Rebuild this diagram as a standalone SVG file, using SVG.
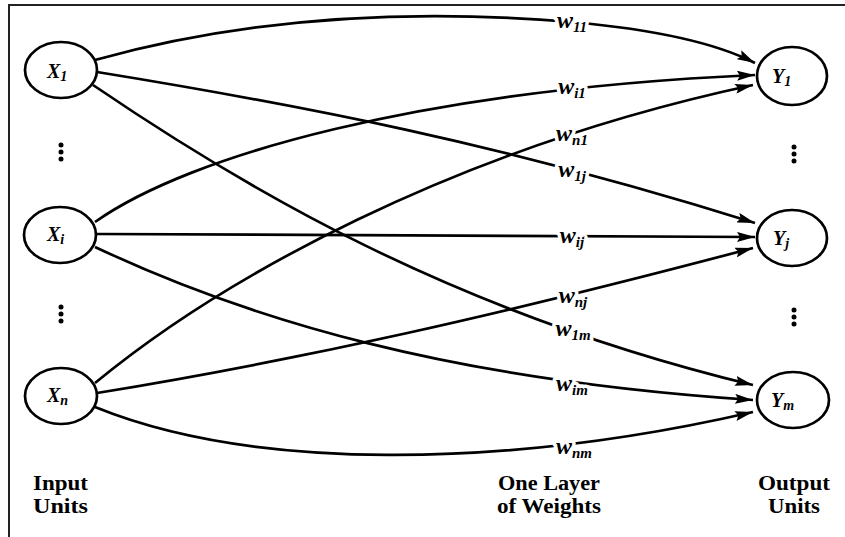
<svg xmlns="http://www.w3.org/2000/svg" width="845" height="537" viewBox="0 0 845 537">
<style>
.node{fill:#fff;stroke:#000;stroke-width:2.7}
.edge{fill:none;stroke:#000;stroke-width:2.7}
.nl{font-family:"Liberation Serif",serif;font-style:italic;font-weight:bold;font-size:20px;fill:#000}
.ns{font-size:14px}
.wl{font-family:"Liberation Serif",serif;font-style:italic;font-weight:bold;font-size:24px;fill:#000;stroke:#fff;stroke-width:7;paint-order:stroke;stroke-linejoin:round;text-anchor:middle}
.ws{font-size:15px}
.cap{font-family:"Liberation Serif",serif;font-weight:bold;font-size:20px;fill:#000}
.dot{fill:#000}
</style>
<defs>
<marker id="arr" markerUnits="userSpaceOnUse" markerWidth="18" markerHeight="10" refX="18" refY="5" orient="auto">
<path d="M0,0 L18,5 L0,10 L3,5 z" fill="#000"/>
</marker>
</defs>
<rect width="845" height="537" fill="#fff"/>
<path d="M9,537 L9,5 L845,5" fill="none" stroke="#222" stroke-width="2"/>
<g id="connectors">
<path class="edge" marker-end="url(#arr)" d="M95,60 Q310,0 572,22 C660,30 720,45 755,63"/>
<path class="edge" marker-end="url(#arr)" d="M95,222 C190,155 420,90 755,75"/>
<path class="edge" marker-end="url(#arr)" d="M95,383 C220,280 450,150 753,85"/>
<path class="edge" marker-end="url(#arr)" d="M97,72 C300,105 500,143 755,223"/>
<path class="edge" marker-end="url(#arr)" d="M97,234 L755,237"/>
<path class="edge" marker-end="url(#arr)" d="M97,393 C300,360 500,315 753,248"/>
<path class="edge" marker-end="url(#arr)" d="M93,85 C240,185 450,312 753,385"/>
<path class="edge" marker-end="url(#arr)" d="M95,247 C250,320 450,380 753,400"/>
<path class="edge" marker-end="url(#arr)" d="M95,407 C250,470 500,470 753,412"/>
<text class="wl" x="572" y="28">w<tspan class="ws" dy="4">11</tspan></text>
<text class="wl" x="572" y="94">w<tspan class="ws" dy="4">i1</tspan></text>
<text class="wl" x="572" y="141">w<tspan class="ws" dy="4">n1</tspan></text>
<text class="wl" x="572" y="177">w<tspan class="ws" dy="4">1j</tspan></text>
<text class="wl" x="572" y="243">w<tspan class="ws" dy="4">ij</tspan></text>
<text class="wl" x="573" y="303">w<tspan class="ws" dy="4">nj</tspan></text>
<text class="wl" x="573" y="336">w<tspan class="ws" dy="4">1m</tspan></text>
<text class="wl" x="572" y="391">w<tspan class="ws" dy="4">im</tspan></text>
<text class="wl" x="574" y="454">w<tspan class="ws" dy="4">nm</tspan></text>
</g>
<g id="X1"><ellipse class="node" cx="61" cy="70" rx="36" ry="28"/><text class="nl" x="47" y="78">X<tspan class="ns" dy="3">1</tspan></text></g>
<g id="Xi"><ellipse class="node" cx="60" cy="235" rx="36" ry="28"/><text class="nl" x="47" y="241">X<tspan class="ns" dy="3">i</tspan></text></g>
<g id="Xn"><ellipse class="node" cx="61" cy="396" rx="36" ry="28"/><text class="nl" x="47" y="402">X<tspan class="ns" dy="3">n</tspan></text></g>
<g id="Y1"><ellipse class="node" cx="792" cy="76" rx="35" ry="29"/><text class="nl" x="772" y="83">Y<tspan class="ns" dy="3">1</tspan></text></g>
<g id="Yj"><ellipse class="node" cx="792" cy="238" rx="35" ry="28"/><text class="nl" x="773" y="245">Y<tspan class="ns" dy="3">j</tspan></text></g>
<g id="Ym"><ellipse class="node" cx="793" cy="400" rx="36" ry="28"/><text class="nl" x="771" y="407">Y<tspan class="ns" dy="3">m</tspan></text></g>
<g id="dots">
<circle class="dot" cx="61" cy="145" r="2.5"/><circle class="dot" cx="61" cy="152" r="2.5"/><circle class="dot" cx="61" cy="159" r="2.5"/>
<circle class="dot" cx="61" cy="307" r="2.5"/><circle class="dot" cx="61" cy="314" r="2.5"/><circle class="dot" cx="61" cy="321" r="2.5"/>
<circle class="dot" cx="794" cy="147" r="2.5"/><circle class="dot" cx="794" cy="154" r="2.5"/><circle class="dot" cx="794" cy="161" r="2.5"/>
<circle class="dot" cx="794" cy="310" r="2.5"/><circle class="dot" cx="794" cy="317" r="2.5"/><circle class="dot" cx="794" cy="324" r="2.5"/>
</g>
<g id="captions">
<text class="cap" x="33" y="490" textLength="55" lengthAdjust="spacingAndGlyphs">Input</text>
<text class="cap" x="33" y="513" textLength="55" lengthAdjust="spacingAndGlyphs">Units</text>
<text class="cap" x="498" y="490" textLength="102" lengthAdjust="spacingAndGlyphs">One Layer</text>
<text class="cap" x="497" y="513" textLength="104" lengthAdjust="spacingAndGlyphs">of Weights</text>
<text class="cap" x="758" y="490" textLength="72" lengthAdjust="spacingAndGlyphs">Output</text>
<text class="cap" x="768" y="513" textLength="52" lengthAdjust="spacingAndGlyphs">Units</text>
</g>
</svg>
